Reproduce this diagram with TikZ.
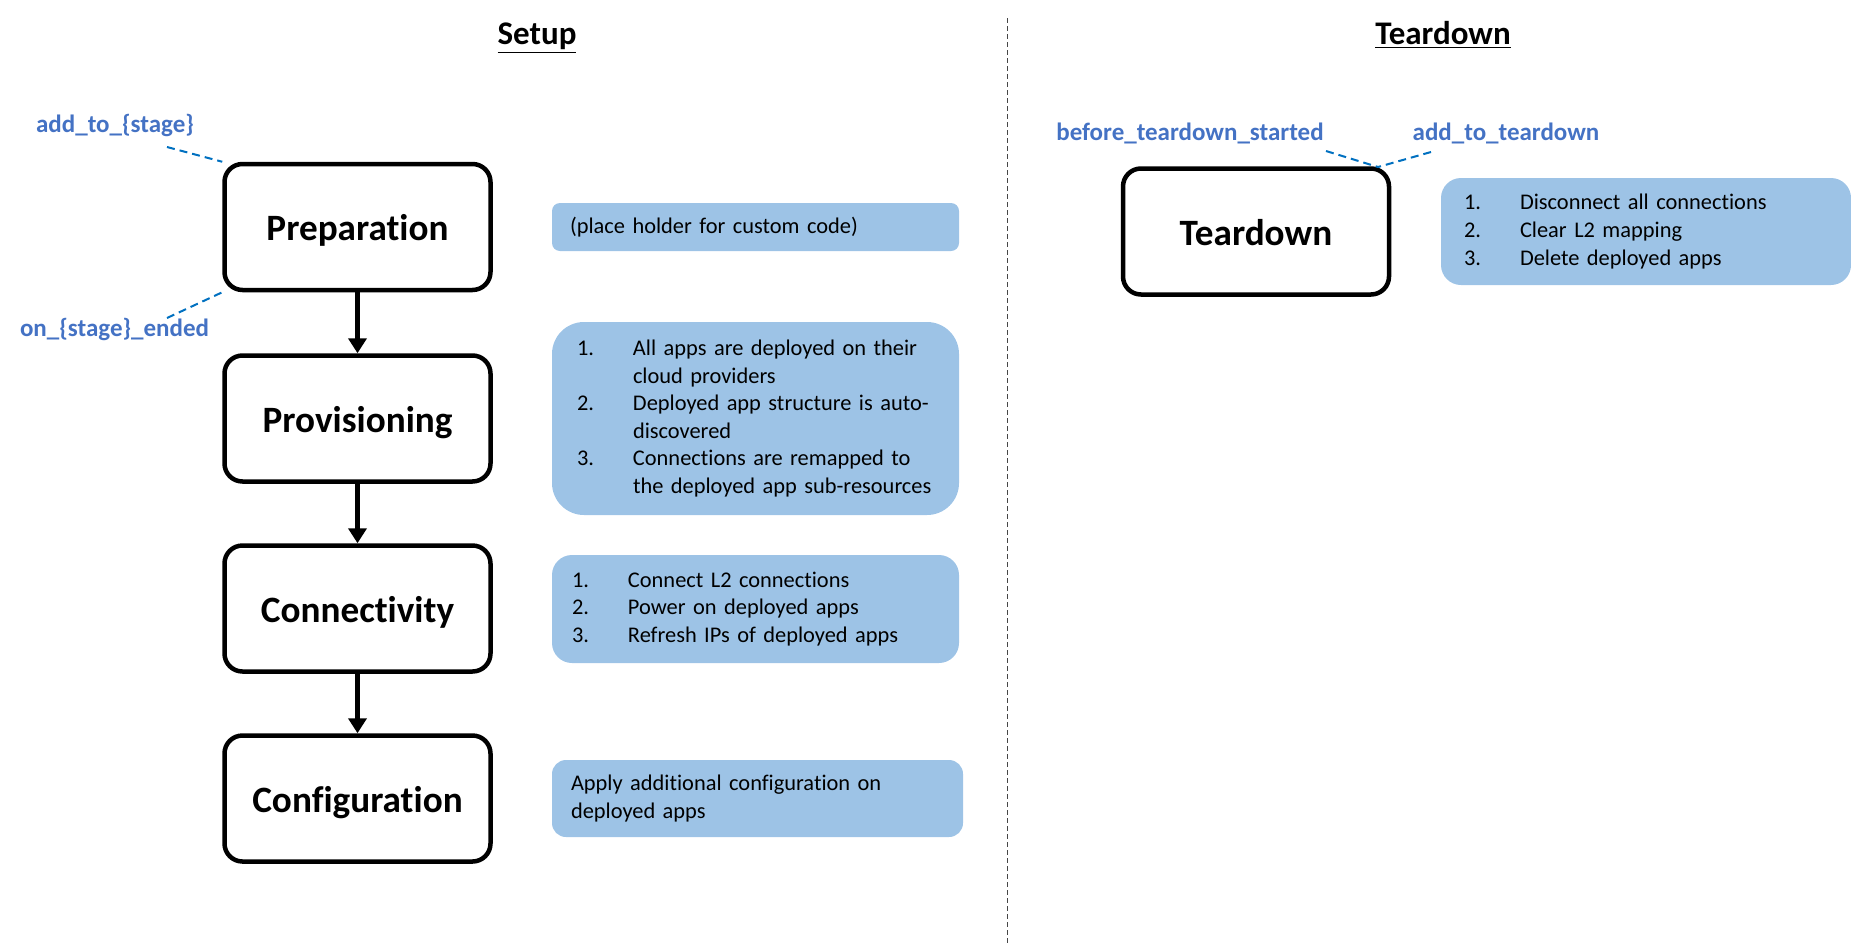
\documentclass[tikz,border=0pt]{standalone}
\usepackage{fontspec}
\setmainfont{Carlito}[Ligatures=NoCommon]
\definecolor{hookblue}{RGB}{68, 114, 196}
\definecolor{dashblue}{RGB}{0, 112, 192}
\definecolor{notefill}{RGB}{157, 195, 230}
\definecolor{sepgray}{RGB}{70, 70, 70}
\usetikzlibrary{arrows.meta, positioning}

\newcommand{\litem}[2]{\mbox{\makebox[28pt][l]{#1}#2}}

\begin{document}
\begin{tikzpicture}[x=0.5pt, y=-0.5pt,
  stage/.style={draw, line width=2.25pt, rounded corners=9pt, minimum width=133pt,
    minimum height=63pt, text height=13.5pt, text depth=0pt,
    font=\fontsize{18.6}{22}\selectfont\bfseries},
  note/.style={fill=notefill, align=left, inner ysep=2pt, font=\fontsize{11.2}{13.8}\selectfont},
  hook/.style={font=\fontsize{12.5}{15}\selectfont\bfseries, text=hookblue},
  hookline/.style={dashblue, line width=1pt, dash pattern=on 4pt off 2.5pt},
  flow/.style={-{Triangle[width=9pt, length=7.5pt]}, line width=2.75pt},
  heading/.style={anchor=base, font=\fontsize{16.5}{20}\selectfont\bfseries},
]
\useasboundingbox (0,0) rectangle (1851,948);

% Column titles and separator
\node[heading] (setuptitle) at (537,44) {\underline{Setup}};
\node[heading] (teardowntitle) at (1443,44) {\underline{Teardown}};
\draw[sepgray, line width=0.5pt, dash pattern=on 2.5pt off 1.5pt] (1007,18) -- (1007,944);

% Setup stages
\node[stage] (prep) at (357.5,227) {Preparation};
\node[stage] (prov) at (357.5,418.5) {Provisioning};
\node[stage] (conn) at (357.5,608.5) {Connectivity};
\node[stage] (conf) at (357.5,798.5) {Configuration};

\draw[flow] (prep) -- (prov);
\draw[flow] (prov) -- (conn);
\draw[flow] (conn) -- (conf);

% Hooks of a stage
\node[hook] (addstage) at (115,125) {add\_to\_\{stage\}};
\node[hook] (endstage) at (114.5,329) {on\_\{stage\}\_ended};
\coordinate (addhook) at (167,147);
\coordinate (endhook) at (167,318);
\draw[hookline] (addhook) -- (prep.north west);
\draw[hookline] (endhook) -- (prep.south west);

% Stage notes
\node[note, minimum width=203.5pt, minimum height=24pt, inner xsep=9pt, text width=185.5pt,
      rounded corners=4pt] (prepnote) at (755.5,227)
{(place holder for custom code)};

\node[note, minimum width=203.5pt, minimum height=96.5pt, inner xsep=12.5pt, text width=178.5pt,
      rounded corners=16pt] (provnote) at (755.5,418.5)
{\litem{1.}{All apps are deployed on their}\\
 \litem{}{cloud providers}\\
 \litem{2.}{Deployed app structure is auto-}\\
 \litem{}{discovered}\\
 \litem{3.}{Connections are remapped to}\\
 \litem{}{the deployed app sub-resources}};

\node[note, minimum width=203.5pt, minimum height=54pt, inner xsep=10pt, text width=183.5pt,
      rounded corners=10pt] (connnote) at (755.5,609)
{\litem{1.}{Connect L2 connections}\\
 \litem{2.}{Power on deployed apps}\\
 \litem{3.}{Refresh IPs of deployed apps}};

\node[note, minimum width=205.5pt, minimum height=38.5pt, inner xsep=9.5pt, text width=186.5pt,
      rounded corners=7pt] (confnote) at (757.5,798.5)
{Apply additional configuration on\\deployed apps};

% Teardown
\node[stage] (tear) at (1256,231.5) {Teardown};
\node[hook] (beforetear) at (1190,133) {before\_teardown\_started};
\node[hook] (addtear) at (1506,133) {add\_to\_teardown};
\coordinate (beforehook) at (1326,151);
\coordinate (addtearhook) at (1431,152);
\coordinate (tearhook) at (1378,167);
\draw[hookline] (beforehook) -- (tearhook);
\draw[hookline] (addtearhook) -- (tearhook);

\node[note, minimum width=205pt, minimum height=53.5pt, inner xsep=11.5pt, text width=182pt,
      rounded corners=10pt] (tearnote) at (1646,231.5)
{\litem{1.}{Disconnect all connections}\\
 \litem{2.}{Clear L2 mapping}\\
 \litem{3.}{Delete deployed apps}};
\end{tikzpicture}
\end{document}
